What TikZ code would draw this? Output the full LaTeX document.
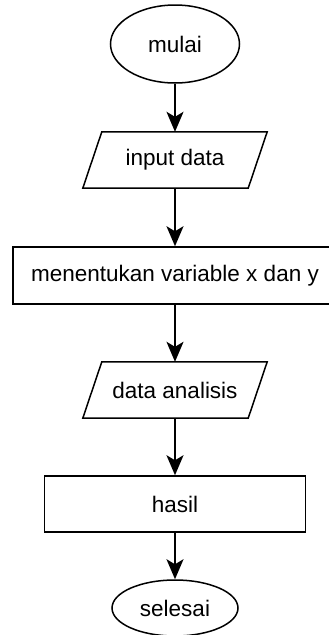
\documentclass[tikz,border=0pt]{standalone}
\usepackage{fontspec}
\setmainfont{Liberation Sans}
\usetikzlibrary{arrows.meta, shapes.geometric}
\tikzset{
    terminal/.style={ellipse, draw, line width=1.5pt, inner sep=0pt}, % 开始与结束
    io/.style={rectangle, inner sep=0pt, minimum width=165pt, minimum height=56pt}, % 输入输出（边框另画）
    process/.style={rectangle, draw, line width=1.5pt, inner sep=0pt, minimum height=57pt}, % 处理步骤
    flow/.style={line width=1.5pt, -{Stealth[length=20pt, width=17pt, inset=5pt]}} % 流程箭头
}

\begin{document}
\begin{tikzpicture}[x=1pt, y=-1pt, font=\fontsize{22.5}{27}\selectfont]
    \useasboundingbox (0,0) rectangle (329,635);

    \node[terminal, minimum width=129pt, minimum height=78pt] (mulai) at (175,44) {mulai};
    \node[io] (input) at (175,160) {input data};
    \node[process, minimum width=324pt] (variabel) at (175,275.5) {menentukan variable x dan y};
    \node[io] (analisis) at (175,390) {data analisis};
    \node[process, minimum width=261pt, minimum height=56pt] (hasil) at (175,504) {hasil};
    \node[terminal, minimum width=126pt, minimum height=56pt] (selesai) at (175,608) {selesai};

    % 平行四边形边框
    \foreach \n in {input, analisis} {
        \draw[line width=1.5pt, line join=miter] ([xshift=-9.5pt]\n.south west) -- ([xshift=9.5pt]\n.north west)
            -- ([xshift=9.5pt]\n.north east) -- ([xshift=-9.5pt]\n.south east) -- cycle;
    }

    \draw[flow] (mulai.south) -- (input.north);
    \draw[flow] (input.south) -- (variabel.north);
    \draw[flow] (variabel.south) -- (analisis.north);
    \draw[flow] (analisis.south) -- (hasil.north);
    \draw[flow] (hasil.south) -- (selesai.north);
\end{tikzpicture}
\end{document}
